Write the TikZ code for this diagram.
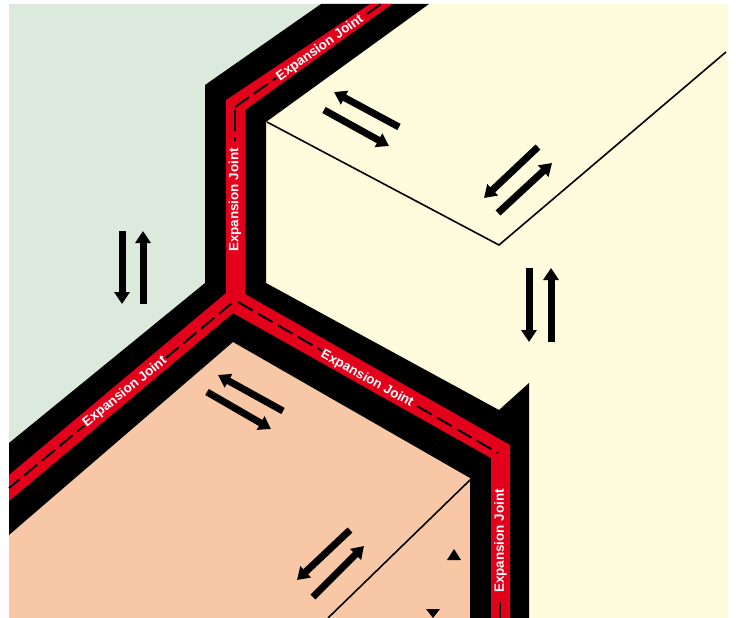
\documentclass[tikz,border=0pt]{standalone}
\usepackage{fontspec}
\setmainfont{Liberation Sans}
\usetikzlibrary{arrows.meta}
\definecolor{ejgreen}{HTML}{DCEADD}
\definecolor{ejyellow}{HTML}{FFFBDD}
\definecolor{ejorange}{HTML}{F8C8A6}
\definecolor{ejred}{HTML}{E2001A}
\tikzset{
  joint/.style={font=\fontsize{13.4}{14}\selectfont\bfseries,text=white,fill=ejred,inner xsep=1pt,inner ysep=0pt},
  dashline/.style={draw=black,line width=2pt,dash pattern=on 17pt off 6pt},
  edgeline/.style={draw=black,line width=1.6pt},
  ar/.style={-{Triangle[length=12pt,width=15pt]},line width=7pt,black},
}
\begin{document}
\begin{tikzpicture}[x=1pt,y=-1pt]
    \useasboundingbox (0,0) rectangle (736,618);
    % the three faces
    \fill[ejyellow] (9,4) rectangle (728,618);
    \fill[ejgreen] (9,4) -- (321,4) -- (205,85) -- (205,283) -- (9,443) -- cycle;
    \fill[ejorange] (9,618) -- (9,535) -- (233,342) -- (470,478) -- (470,618) -- cycle;
    % joint band
    \fill[black] (321,4) -- (205,85) -- (205,283) -- (9,443) -- (9,535) -- (233,342)
       -- (470,478) -- (470,618) -- (529,618) -- (529,383) -- (499,410)
       -- (266,283) -- (266,122) -- (429,4) -- cycle;
    \fill[ejred] (370,4) -- (226,100) -- (226,293) -- (9,475) -- (9,501) -- (233,313)
       -- (491,458) -- (491,618) -- (510,618) -- (510,445) -- (245,294) -- (245,110) -- (392,4) -- cycle;
    % centre lines
    \coordinate (c1) at (235,107);
    \coordinate (c2) at (381,4);
    \coordinate (c3) at (232,303);
    \coordinate (c4) at (9,488);
    \coordinate (c5) at (238,302);
    \coordinate (c6) at (498,453);
    \draw[dashline] (c1) -- (c2);
    \draw[dashline,dash pattern=on 21pt off 6pt] (235,110) -- (235,141);
    \draw[dashline] (c3) -- (c4);
    \draw[dashline] (c5) -- (c6);
    \draw[dashline] (500,602) -- (500,618);
    % edges of the faces
    \draw[edgeline] (267,122) -- (499,245) -- (726,52);
    \draw[edgeline] (470,480) -- (328,618);
    % labels
    \node[joint,rotate=90] (jv) at (235,200) {Expansion Joint};
    \node[joint,rotate=35.7] (jt) at (320,48) {Expansion Joint};
    \node[joint,rotate=39] (jl) at (125,392) {Expansion Joint};
    \node[joint,rotate=-29] (jm) at (367,379) {Expansion Joint};
    \node[joint,rotate=90] (jr) at (500.5,541) {Expansion Joint};
    % movement arrows
    \draw[ar] (122,231) -- (122,304);
    \draw[ar] (143,304) -- (143,231);
    \draw[ar] (529,268) -- (529,342);
    \draw[ar] (551,342) -- (551,268);
    \draw[ar] (399,127) -- (334,92);
    \draw[ar] (324,110) -- (389,146);
    \draw[ar] (538,147) -- (484,198);
    \draw[ar] (498,213) -- (552,163);
    \draw[ar] (283,411) -- (218,375);
    \draw[ar] (207,392) -- (271,429);
    \draw[ar] (350,530) -- (297,580);
    \draw[ar] (313,597) -- (364,546);
    % small triangles
    \fill[black] (454,549) -- (461,560) -- (447,560) -- cycle;
    \fill[black] (426,609) -- (440,609) -- (433,618) -- cycle;
\end{tikzpicture}
\end{document}
